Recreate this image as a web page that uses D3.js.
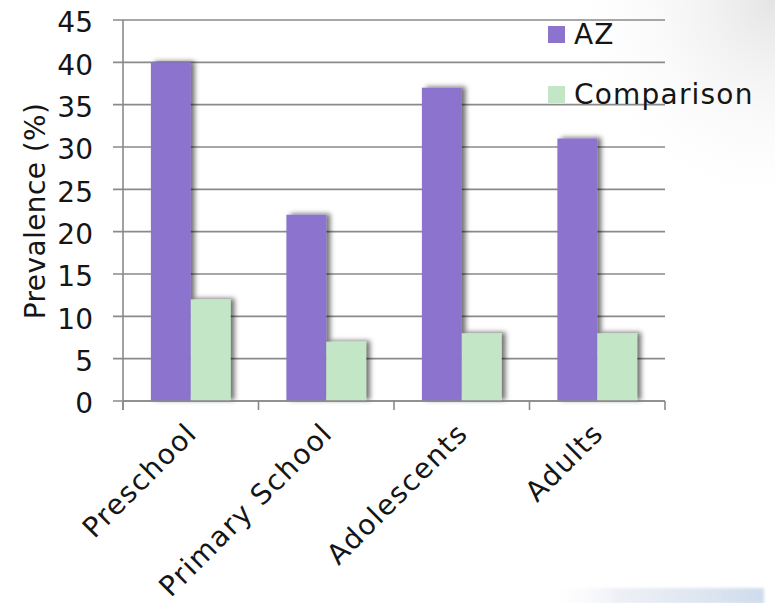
<!DOCTYPE html>
<html>
<head>
<meta charset="utf-8">
<script src="https://cdn.jsdelivr.net/npm/d3@7/dist/d3.min.js"></script>
<style>
  html, body { margin: 0; padding: 0; background: #ffffff; }
  svg { display: block; }
  text { font-family: "DejaVu Sans", sans-serif; fill: #151515; }
</style>
</head>
<body>
<svg id="chart" width="775" height="603"></svg>
<script>
// Prevalence by age group, AZ vs comparison population
const categories = ["Preschool", "Primary School", "Adolescents", "Adults"];
const seriesNames = ["AZ", "Comparison"];
const azValues = [40, 22, 37, 31];
const comparisonValues = [12, 7, 8, 8];
const yTicks = [0, 5, 10, 15, 20, 25, 30, 35, 40, 45];
const seriesColors = ["#8b73ce", "#c3e7c6"];

const FONT = "'DejaVu Sans', sans-serif";
const FS = 28;
const plot = { left: 123, right: 665, top: 20, bottom: 401 };

const svg = d3.select("#chart");
const defs = svg.append("defs");

// soft grey wash in the upper-right corner
const corner = defs.append("radialGradient").attr("id", "corner")
  .attr("cx", 1).attr("cy", 0).attr("r", 1);
corner.append("stop").attr("offset", 0).attr("stop-color", "#e4e4e4");
corner.append("stop").attr("offset", 1).attr("stop-color", "#ffffff").attr("stop-opacity", 0);

// pale sky strip along the bottom-right edge
const sky = defs.append("linearGradient").attr("id", "sky").attr("x1", 0).attr("x2", 1);
sky.append("stop").attr("offset", 0).attr("stop-color", "#ffffff").attr("stop-opacity", 0);
sky.append("stop").attr("offset", 0.35).attr("stop-color", "#eef0f6");
sky.append("stop").attr("offset", 0.7).attr("stop-color", "#dfe6f0");
sky.append("stop").attr("offset", 1).attr("stop-color", "#cfdcec");

defs.append("filter").attr("id", "soft").attr("x", "-20%").attr("y", "-200%")
  .attr("width", "140%").attr("height", "500%")
  .append("feGaussianBlur").attr("stdDeviation", 1.5);

const shadow = defs.append("filter").attr("id", "barShadow")
  .attr("x", "-30%").attr("y", "-10%").attr("width", "180%").attr("height", "120%");
shadow.append("feDropShadow").attr("dx", 4).attr("dy", -1)
  .attr("stdDeviation", 2.5).attr("flood-color", "#000").attr("flood-opacity", 0.55);

svg.append("rect").attr("x", 560).attr("y", 0).attr("width", 215).attr("height", 220)
  .attr("fill", "url(#corner)");
svg.append("rect").attr("x", 540).attr("y", 588).attr("width", 224).attr("height", 16)
  .attr("fill", "url(#sky)").attr("filter", "url(#soft)");

const x0 = d3.scaleBand().domain(categories).range([plot.left, plot.right]).padding(0);
const x1 = d3.scaleBand().domain(seriesNames).range([0, x0.bandwidth()])
  .paddingInner(0).paddingOuter(0.7);
const y = d3.scaleLinear().domain([0, 45]).range([plot.bottom, plot.top]);

const gridColor = "#8a8a8a";

// horizontal gridlines (with outer tick marks)
svg.append("g").selectAll("line").data(yTicks).join("line")
  .attr("x1", plot.left - 10).attr("x2", plot.right)
  .attr("y1", d => y(d)).attr("y2", d => y(d))
  .attr("stroke", gridColor).attr("stroke-width", 1.6);

// y axis labels
const yAxis = d3.axisLeft(y).tickValues(yTicks).tickSize(0).tickPadding(30);
const gy = svg.append("g").attr("transform", `translate(${plot.left},0)`).call(yAxis);
gy.select(".domain").remove();
gy.selectAll("text").attr("font-size", FS).attr("dy", "0.42em")
  .style("font-family", FONT).attr("fill", "#151515");

// bars
const data = categories.map((c, i) => ({ cat: c, vals: [azValues[i], comparisonValues[i]] }));
const groups = svg.append("g").selectAll("g").data(data).join("g")
  .attr("transform", d => `translate(${x0(d.cat)},0)`);
groups.selectAll("rect").data(d => d.vals.map((v, j) => ({ key: seriesNames[j], v, j })))
  .join("rect")
  .attr("x", d => x1(d.key)).attr("width", x1.bandwidth())
  .attr("y", d => y(d.v)).attr("height", d => y(0) - y(d.v))
  .attr("fill", d => seriesColors[d.j])
  .attr("filter", "url(#barShadow)");

// axis lines drawn over the bars
svg.append("line").attr("x1", plot.left).attr("x2", plot.left)
  .attr("y1", plot.top).attr("y2", plot.bottom + 9)
  .attr("stroke", gridColor).attr("stroke-width", 1.6);
svg.append("line").attr("x1", plot.left).attr("x2", plot.right)
  .attr("y1", plot.bottom).attr("y2", plot.bottom)
  .attr("stroke", gridColor).attr("stroke-width", 1.6);
const xTickPos = categories.map(c => x0(c)).concat([x0(categories[categories.length - 1]) + x0.bandwidth()]);
svg.append("g").selectAll("line").data(xTickPos).join("line")
  .attr("x1", d => d).attr("x2", d => d)
  .attr("y1", plot.bottom).attr("y2", plot.bottom + 9)
  .attr("stroke", gridColor).attr("stroke-width", 1.6);

// rotated category labels
svg.append("g").selectAll("text").data(categories).join("text")
  .attr("transform", d => `translate(${x0(d) + x0.bandwidth() / 2 + 1},428) rotate(-45)`)
  .attr("text-anchor", "end").attr("dy", "0.35em")
  .attr("font-size", FS).attr("letter-spacing", 1.5).text(d => d);

// y axis title
svg.append("text")
  .attr("transform", "translate(35,211) rotate(-90)")
  .attr("text-anchor", "middle").attr("dy", "0.35em")
  .attr("font-size", FS).attr("letter-spacing", 0.4).text("Prevalence (%)");

// legend
const legend = svg.append("g").selectAll("g").data(seriesNames).join("g")
  .attr("transform", (d, i) => `translate(548,${26 + i * 60})`);
legend.append("rect").attr("width", 17).attr("height", 17)
  .attr("fill", (d, i) => seriesColors[i]);
legend.append("text").attr("x", 26).attr("y", 18)
  .attr("font-size", FS).attr("letter-spacing", 1.2).text(d => d);
</script>
</body>
</html>
